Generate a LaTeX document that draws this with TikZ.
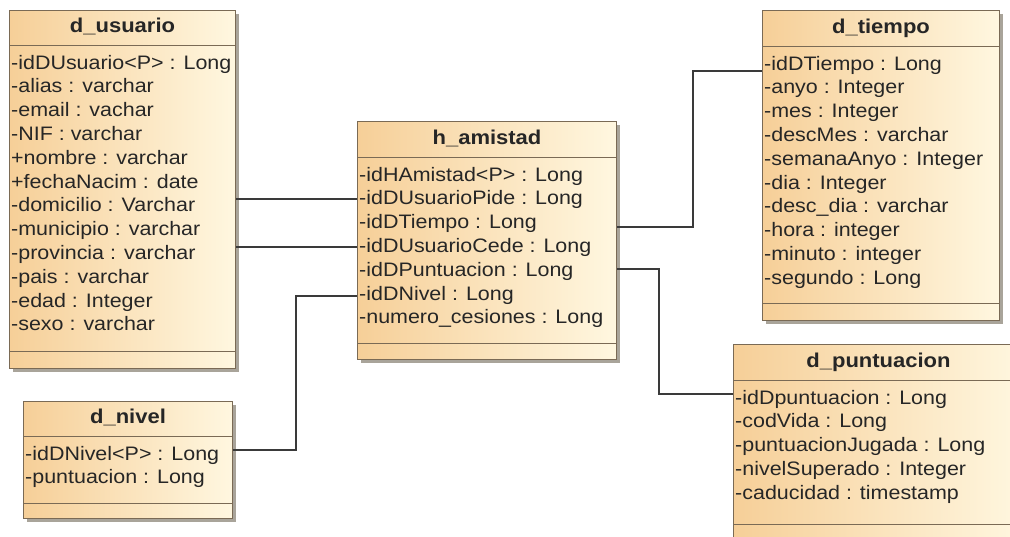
\documentclass[tikz,border=0pt]{standalone}
\usepackage{fontspec}
\setmainfont{Liberation Sans}[FakeStretch=1.1]
\definecolor{peach}{HTML}{F6CF98}
\definecolor{cream}{HTML}{FFF7E0}
\definecolor{edge}{HTML}{7A6A55}
\definecolor{shade}{HTML}{A9A49A}
\definecolor{wire}{HTML}{3A3A3A}
\tikzset{
  classbox/.style={draw=edge, line width=1pt, left color=peach, right color=cream,
    inner sep=0pt, anchor=north west},
  shadowbox/.style={fill=shade, draw=none},
  sepline/.style={draw=edge, line width=1pt},
  classtitle/.style={font=\fontsize{20pt}{22pt}\selectfont\bfseries, text=black!85,
    inner sep=0pt, text height=14pt, text depth=4pt},
  attr/.style={font=\fontsize{19.5pt}{22pt}\selectfont, text=black!85, inner sep=0pt,
    text height=14pt, text depth=4pt, anchor=west},
  link/.style={draw=wire, line width=1.4pt},
}
% \umlclass{name}{x}{y}{width}{height}{header height}{footer height}{title}{attribute list}
\newcommand\umlclass[9]{%
  \fill[shadowbox] (#2+4,#3+4) rectangle ++(#4,#5);
  \node[classbox, minimum width=#4pt, minimum height=#5pt] (#1) at (#2,#3) {};
  \draw[sepline] ([yshift=-#6pt]#1.north west) -- ([yshift=-#6pt]#1.north east);
  \draw[sepline] ([yshift=#7pt]#1.south west) -- ([yshift=#7pt]#1.south east);
  \node[classtitle] (#1-title) at ([yshift={-#6pt/2}]#1.north) {#8};
  \foreach \r [count=\i] in {#9}
    \node[attr] (#1-\i) at ([xshift=2pt, yshift={-(#6+19+(\i-1)*23.8)*1pt}]#1.north west) {\r};
}
\begin{document}
\begin{tikzpicture}[x=1pt, y=-1pt]
\useasboundingbox (0,0) rectangle (1010,536);
\fill[white] (0,0) rectangle (1010,536);
\clip (0,0) rectangle (1010,536);

\umlclass{usuario}{9}{10}{226}{358}{35}{18}{d\_usuario}{%
  -idDUsuario<P> : Long, -alias : varchar, -email : vachar, -NIF : varchar,
  +nombre : varchar, +fechaNacim : date, -domicilio : Varchar, -municipio : varchar,
  -provincia : varchar, -pais : varchar, -edad : Integer, -sexo : varchar}

\umlclass{amistad}{357}{121}{259}{238}{36}{17}{h\_amistad}{%
  -idHAmistad<P> : Long, -idDUsuarioPide : Long, -idDTiempo : Long,
  -idDUsuarioCede : Long, -idDPuntuacion : Long, -idDNivel : Long,
  -numero\_cesiones : Long}

\umlclass{tiempo}{762}{10}{237}{310}{36}{18}{d\_tiempo}{%
  -idDTiempo : Long, -anyo : Integer, -mes : Integer, -descMes : varchar,
  -semanaAnyo : Integer, -dia : Integer, -desc\_dia : varchar, -hora : integer,
  -minuto : integer, -segundo : Long}

\umlclass{puntuacion}{733}{344}{290}{210}{36}{31}{d\_puntuacion}{%
  -idDpuntuacion : Long, -codVida : Long, -puntuacionJugada : Long,
  -nivelSuperado : Integer, -caducidad : timestamp}

\umlclass{nivel}{23}{401}{209}{117}{35}{16}{d\_nivel}{%
  -idDNivel<P> : Long, -puntuacion : Long}

% associations between the fact table and its dimensions
\draw[link] (usuario.east |- 0,199) -- (amistad.west |- 0,199);
\draw[link] (usuario.east |- 0,247) -- (amistad.west |- 0,247);
\draw[link] (nivel.east |- 0,450) -- (296,450) -- (296,296) -- (amistad.west |- 0,296);
\draw[link] (amistad.east |- 0,227) -- (693,227) -- (693,71) -- (tiempo.west |- 0,71);
\draw[link] (amistad.east |- 0,269) -- (659,269) -- (659,394) -- (puntuacion.west |- 0,394);
\end{tikzpicture}
\end{document}
